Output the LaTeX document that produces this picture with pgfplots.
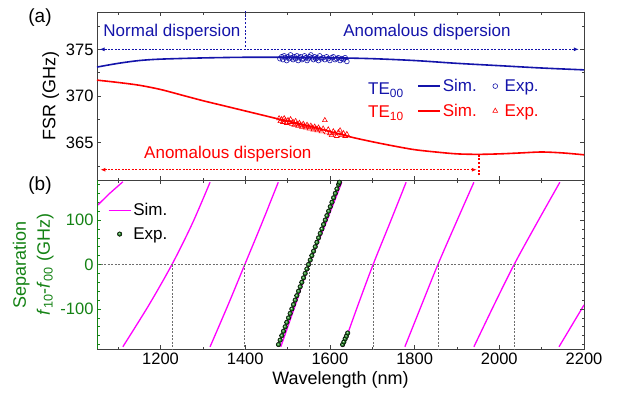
\documentclass[border=0pt]{standalone}
\usepackage{pgfplots}
\pgfplotsset{compat=1.18}
\usepackage{fontspec}
\setmainfont{Liberation Sans}
\usetikzlibrary{arrows.meta}
\definecolor{myblue}{RGB}{20,20,170}
\definecolor{myred}{RGB}{255,0,0}
\definecolor{mymag}{RGB}{255,0,255}
\definecolor{mygreen}{RGB}{20,130,20}
\definecolor{dotgray}{RGB}{110,110,110}
\pgfplotsset{legend image code/.code={\draw[mark repeat=2,mark phase=2,#1] plot coordinates {(0pt,0pt) (11pt,0pt) (22pt,0pt)};}}
\pgfplotsset{every axis/.append style={scale only axis, width=487pt, xmin=1050, xmax=2200,
  xtick={1200,1400,...,2200}, minor xtick={1100,1300,...,2100},
  major tick length=4pt, minor tick length=2.5pt, tick style={line width=0.6pt, black!75},
  /pgf/number format/assume math mode=true, /pgf/number format/1000 sep={},
  ticklabel style={font=\fontsize{16.5}{16.5}\selectfont},
  label style={font=\fontsize{18}{24}\selectfont},
  axis line style={line width=0.8pt, draw=black!75}}}
\begin{document}
\begin{tikzpicture}
\path[use as bounding box] (0,0) rectangle (617pt,-392pt);
% ---------------- panel (a)
\begin{axis}[at={(97pt,-12pt)}, anchor=north west, height=168pt,
  ymin=361, ymax=379, ytick={365,370,375}, minor ytick={362.5,367.5,372.5,377.5},
  xticklabels={}, ylabel={FSR (GHz)}, clip=false,
  legend style={at={(0.651,0.625)}, anchor=north west, draw=none, fill=none,
    font=\fontsize{17}{17}\selectfont, row sep=7pt},
  legend columns=2, legend cell align=left,
  /tikz/every even column/.append style={column sep=14pt}]
\addplot[myblue, line width=1.6pt, smooth] coordinates {
(1050,373.1) (1100,373.5) (1150,373.8) (1200,373.95) (1300,374.08) (1400,374.15)
(1500,374.15) (1600,374.1) (1700,374.0) (1800,373.8) (1900,373.5) (2000,373.25)
(2100,373.0) (2200,372.8)};
\addlegendentry{\textcolor{myblue}{Sim.}}
\addplot[myblue, only marks, mark=o, mark size=2.4pt, line width=0.6pt] coordinates {
(1482,374.0) (1486,374.2) (1489,373.9) (1492,374.3) (1495,374.1) (1498,373.8) (1501,374.2)
(1504,374.0) (1507,374.4) (1510,374.1) (1513,373.9) (1516,374.2) (1519,374.0) (1522,374.3)
(1525,373.8) (1528,374.1) (1531,374.2) (1534,373.9) (1537,374.0) (1540,374.3) (1543,374.1)
(1546,373.8) (1549,374.0) (1552,374.2) (1555,374.4) (1558,374.1) (1561,373.9) (1564,374.2)
(1567,374.0) (1570,374.1) (1573,373.8) (1576,374.3) (1580,374.0) (1584,374.1) (1588,373.9)
(1592,374.2) (1596,374.0) (1600,373.8) (1604,374.1) (1608,374.2) (1612,373.9) (1616,374.0)
(1620,374.1) (1624,373.8) (1628,374.0) (1632,373.9) (1636,374.1) (1640,373.7)};
\addlegendentry{\hspace{5pt}\textcolor{myblue}{Exp.}}
\addplot[myred, line width=1.6pt, smooth] coordinates {
(1050,371.7) (1100,371.45) (1150,371.15) (1200,370.7) (1250,370.1) (1300,369.5)
(1350,368.95) (1400,368.4) (1450,367.85) (1500,367.3) (1550,366.8) (1600,366.2)
(1650,365.6) (1700,365.1) (1750,364.65) (1800,364.25) (1850,364.0) (1900,363.8)
(1950,363.75) (2000,363.8) (2050,363.9) (2100,364.0) (2150,363.9) (2200,363.7)};
\addlegendentry{\textcolor{myred}{Sim.}}
\addplot[myred, only marks, mark=triangle, mark size=2.8pt, line width=0.6pt] coordinates {
(1480,367.6) (1483,367.3) (1486,367.5) (1489,367.2) (1492,367.6) (1495,367.4) (1498,367.1)
(1501,367.4) (1504,367.2) (1507,367.5) (1510,367.0) (1513,367.2) (1516,366.9) (1519,367.3)
(1522,367.0) (1525,366.8) (1528,367.1) (1531,366.9) (1534,366.7) (1537,367.0) (1540,366.8)
(1543,366.6) (1546,366.9) (1549,366.7) (1552,366.5) (1555,366.8) (1558,366.6) (1561,366.4)
(1564,366.7) (1567,366.5) (1570,366.3) (1573,366.6) (1576,366.4) (1580,366.2) (1584,366.5)
(1588,367.4) (1592,366.1) (1596,366.4) (1600,366.0) (1604,365.8) (1608,366.2) (1612,366.0)
(1616,365.7) (1620,366.1) (1624,366.3) (1628,365.8) (1632,366.0) (1636,365.7) (1640,365.9)};
\addlegendentry{\hspace{5pt}\textcolor{myred}{Exp.}}
% annotations: dotted lines built from short solid dashes
\pgfplotsinvokeforeach{1068,1076,...,2172}{\draw[myblue, line width=1.2pt] (axis cs:#1,375) -- ([xshift=2pt]axis cs:#1,375);}
\pgfplotsinvokeforeach{375.3,375.7,...,378.9}{\draw[myblue, line width=1.2pt] (axis cs:1400,#1) -- ([yshift=2pt]axis cs:1400,#1);}
\draw[myblue, line width=1pt, -{Latex[length=5pt,width=4pt]}] (axis cs:1066,375) -- (axis cs:1056,375);
\draw[myblue, line width=1pt, -{Latex[length=5pt,width=4pt]}] (axis cs:2178,375) -- (axis cs:2188,375);
\pgfplotsinvokeforeach{1068,1076,...,1932}{\draw[myred, line width=1.2pt] (axis cs:#1,362.1) -- ([xshift=2pt]axis cs:#1,362.1);}
\pgfplotsinvokeforeach{361.5,361.9,...,363.5}{\draw[myred, line width=1.2pt] (axis cs:1952,#1) -- ([yshift=2pt]axis cs:1952,#1);}
\draw[myred, line width=1pt, -{Latex[length=5pt,width=4pt]}] (axis cs:1066,362.1) -- (axis cs:1058,362.1);
\draw[myred, line width=1pt, -{Latex[length=5pt,width=4pt]}] (axis cs:1938,362.1) -- (axis cs:1947,362.1);
\node[text=myblue, font=\fontsize{17}{17}\selectfont] at (axis cs:1227,376.84) {Normal dispersion};
\node[text=myblue, font=\fontsize{17}{17}\selectfont] at (axis cs:1829,376.84) {Anomalous dispersion};
\node[text=myred, font=\fontsize{17}{17}\selectfont] at (axis cs:1359,363.76) {Anomalous dispersion};
\node[anchor=base west, text=myblue, font=\fontsize{17}{17}\selectfont, inner sep=0pt] at (axis cs:1690,370.14) {TE\textsubscript{00}};
\node[anchor=base west, text=myred, font=\fontsize{17}{17}\selectfont, inner sep=0pt] at (axis cs:1690,367.66) {TE\textsubscript{10}};
\end{axis}
% ---------------- panel (b)
\begin{axis}[at={(97pt,-180pt)}, anchor=north west, height=169pt,
  ymin=-190, ymax=190, ytick={-100,0,100},
  minor ytick={-180,-160,-140,-120,-80,-60,-40,-20,20,40,60,80,120,140,160,180},
  ytick pos=left, ytick style={mygreen}, yticklabel style={text=mygreen},
  xlabel={Wavelength (nm)},
  ylabel={Separation\\\textit{f}\textsubscript{10}-\textit{f}\textsubscript{00} (GHz)},
  ylabel style={align=center, text=mygreen},
  legend style={at={(0.016,0.885)}, anchor=north west, draw=none, fill=none,
    font=\fontsize{17}{17}\selectfont, row sep=6pt}, legend cell align=left]
\addplot[mymag, line width=1.3pt, smooth] coordinates {(1631,-185) (1666,-92) (1702,0) (1741,92) (1780,185)};
\addlegendentry{Sim.}
\addplot[only marks, mark=ball, ball color=mygreen, mark size=2.3pt] coordinates {
(1478.5,-180) (1482.4,-170) (1486.4,-160) (1490.3,-150) (1494.3,-140) (1498.2,-130) (1502.2,-120)
(1506.1,-110) (1510.1,-100) (1514.0,-90) (1518.0,-80) (1521.9,-70) (1525.8,-60) (1529.8,-50)
(1533.7,-40) (1537.7,-30) (1541.6,-20) (1545.6,-10) (1549.5,0) (1553.5,10) (1557.4,20)
(1561.4,30) (1565.3,40) (1569.3,50) (1573.2,60) (1577.1,70) (1581.1,80) (1585.0,90)
(1589.0,100) (1592.9,110) (1596.9,120) (1600.8,130) (1604.8,140) (1608.7,150) (1612.7,160)
(1616.6,170) (1620.6,180) (1622.5,185)
(1630,-180) (1633,-174) (1636,-167) (1639,-161) (1642,-154)};
\addlegendentry{Exp.}
\addplot[forget plot, mymag, line width=1.3pt] coordinates {(1050,132) (1080,160) (1111,186)};
\addplot[forget plot, mymag, line width=1.3pt, smooth] coordinates {(1111,-185) (1172,-92) (1227,0) (1275,92) (1317,185)};
\addplot[forget plot, mymag, line width=1.3pt, smooth] coordinates {(1317,-185) (1359,-92) (1399,0) (1439,92) (1478,185)};
\addplot[forget plot, mymag, line width=1.3pt, smooth] coordinates {(1484,-185) (1518,-92) (1551,0) (1590,92) (1628,185)};
\addplot[forget plot, mymag, line width=1.3pt, smooth] coordinates {(1777,-185) (1816,-92) (1855,0) (1897,92) (1940,185)};
\addplot[forget plot, mymag, line width=1.3pt, smooth] coordinates {(1940,-185) (1987,-92) (2035,0) (2088,92) (2143,185)};
\addplot[forget plot, mymag, line width=1.3pt] coordinates {(2141,-185) (2200,-91)};
% dotted guides
\addplot[forget plot, draw=dotgray, mark=none, line width=0.6pt, dash pattern=on 2pt off 1.5pt] coordinates {(1050,0) (2200,0)};
\addplot[forget plot, draw=dotgray, mark=none, line width=0.6pt, dash pattern=on 2pt off 1.5pt] coordinates {(1227,0) (1227,-190)};
\addplot[forget plot, draw=dotgray, mark=none, line width=0.6pt, dash pattern=on 2pt off 1.5pt] coordinates {(1399,0) (1399,-190)};
\addplot[forget plot, draw=dotgray, mark=none, line width=0.6pt, dash pattern=on 2pt off 1.5pt] coordinates {(1551,0) (1551,-190)};
\addplot[forget plot, draw=dotgray, mark=none, line width=0.6pt, dash pattern=on 2pt off 1.5pt] coordinates {(1702,0) (1702,-190)};
\addplot[forget plot, draw=dotgray, mark=none, line width=0.6pt, dash pattern=on 2pt off 1.5pt] coordinates {(1855,0) (1855,-190)};
\addplot[forget plot, draw=dotgray, mark=none, line width=0.6pt, dash pattern=on 2pt off 1.5pt] coordinates {(2035,0) (2035,-190)};
\draw[mygreen, line width=0.9pt] (rel axis cs:0,0) -- (rel axis cs:0,1);
\end{axis}
\begin{axis}[at={(97pt,-180pt)}, anchor=north west, height=169pt,
  ymin=-190, ymax=190, ytick={-100,0,100},
  minor ytick={-180,-160,-140,-120,-80,-60,-40,-20,20,40,60,80,120,140,160,180},
  ytick pos=right, yticklabels={}, xtick=\empty, minor xtick={}, axis line style={draw=none}]
\addplot[draw=none, forget plot] coordinates {(1500,0)};
\end{axis}
\node[font=\fontsize{19}{19}\selectfont] at (40pt,-18pt) {(a)};
\node[font=\fontsize{19}{19}\selectfont] at (40pt,-186pt) {(b)};
\end{tikzpicture}
\end{document}
